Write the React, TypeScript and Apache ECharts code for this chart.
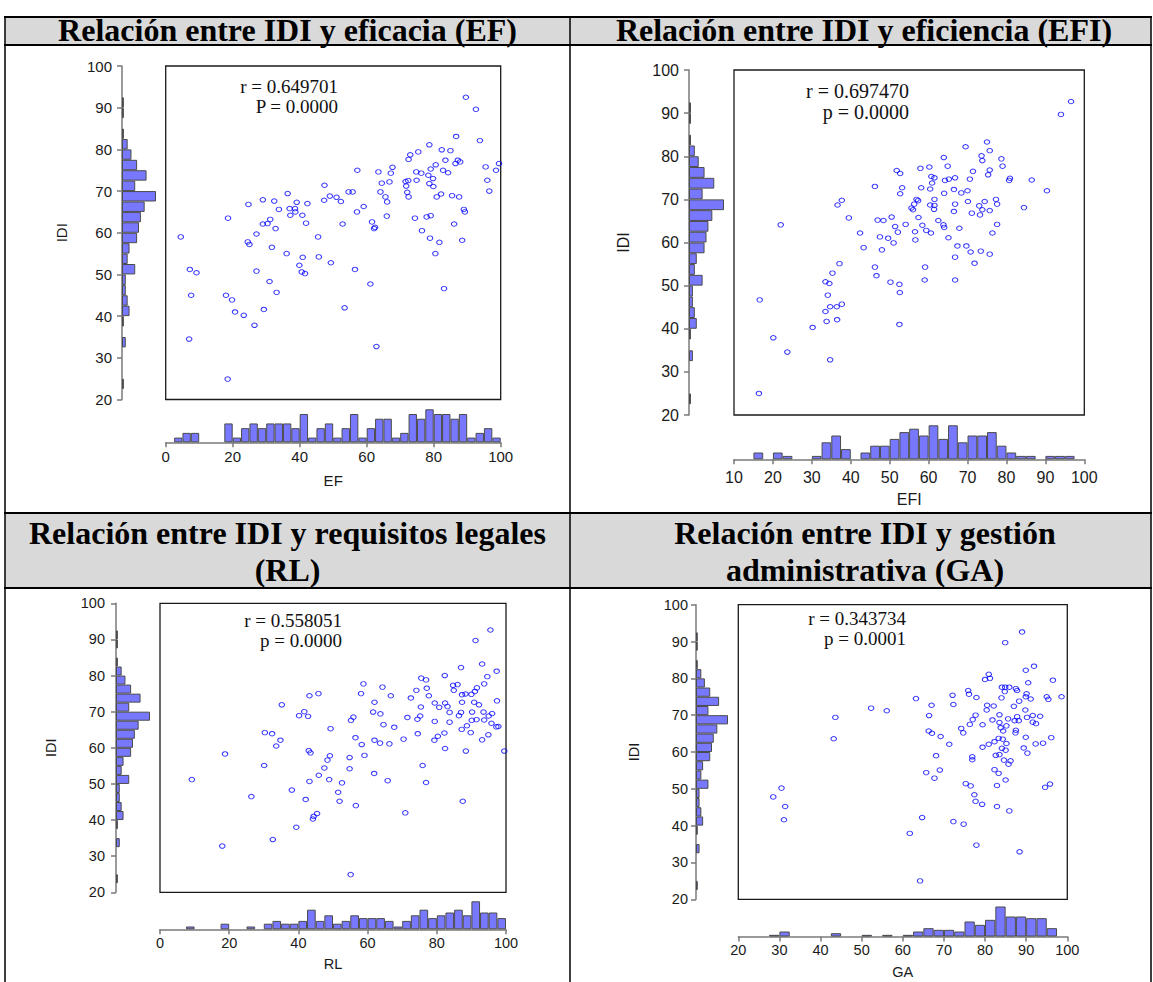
import { useEffect, useRef } from "react";
import * as echarts from "echarts";

// ---------------- DATA ----------------
// IDI histogram (shared by the four panels), bins of 2.5 from 20 to 100
const IDI_BINS = [20, 22.5, 25, 27.5, 30, 32.5, 35, 37.5, 40, 42.5, 45, 47.5, 50, 52.5, 55, 57.5, 60, 62.5, 65, 67.5, 70, 72.5, 75, 77.5, 80, 82.5, 85, 87.5, 90, 92.5, 95, 97.5];
const IDI_COUNTS = [0, 1, 0, 0, 0, 2, 0, 1, 4, 3, 2, 2, 7, 3, 4, 8, 9, 10, 12, 18, 7, 13, 8, 5, 3, 1, 0, 1, 1, 0, 0, 0];

const EF_BINS = [0, 2.5, 5, 7.5, 10, 12.5, 15, 17.5, 20, 22.5, 25, 27.5, 30, 32.5, 35, 37.5, 40, 42.5, 45, 47.5, 50, 52.5, 55, 57.5, 60, 62.5, 65, 67.5, 70, 72.5, 75, 77.5, 80, 82.5, 85, 87.5, 90, 92.5, 95, 97.5];
const EF_COUNTS = [0, 1, 2, 2, 0, 0, 0, 4, 1, 3, 4, 3, 4, 4, 4, 3, 6, 1, 3, 4, 1, 3, 6, 1, 3, 5, 5, 1, 2, 6, 5, 7, 6, 6, 5, 6, 1, 2, 3, 1];

const EFI_BINS = [10, 12.5, 15, 17.5, 20, 22.5, 25, 27.5, 30, 32.5, 35, 37.5, 40, 42.5, 45, 47.5, 50, 52.5, 55, 57.5, 60, 62.5, 65, 67.5, 70, 72.5, 75, 77.5, 80, 82.5, 85, 87.5, 90, 92.5, 95, 97.5];
const EFI_COUNTS = [0, 0, 2, 0, 2, 1, 0, 0, 1, 5, 7, 3, 0, 2, 4, 4, 6, 8, 9, 7, 10, 6, 10, 5, 7, 7, 8, 4, 2, 1, 1, 0, 1, 1, 1, 0];

const RL_BINS = [0, 2.5, 5, 7.5, 10, 12.5, 15, 17.5, 20, 22.5, 25, 27.5, 30, 32.5, 35, 37.5, 40, 42.5, 45, 47.5, 50, 52.5, 55, 57.5, 60, 62.5, 65, 67.5, 70, 72.5, 75, 77.5, 80, 82.5, 85, 87.5, 90, 92.5, 95, 97.5];
const RL_COUNTS = [0, 0, 0, 1, 0, 0, 0, 2, 0, 0, 1, 0, 2, 3, 2, 2, 3, 7, 3, 5, 2, 3, 5, 4, 4, 4, 3, 1, 3, 5, 7, 4, 5, 6, 7, 5, 10, 6, 6, 4];

const GA_BINS = [20, 22.5, 25, 27.5, 30, 32.5, 35, 37.5, 40, 42.5, 45, 47.5, 50, 52.5, 55, 57.5, 60, 62.5, 65, 67.5, 70, 72.5, 75, 77.5, 80, 82.5, 85, 87.5, 90, 92.5, 95, 97.5];
const GA_COUNTS = [0, 0, 0, 1, 3, 0, 0, 0, 0, 2, 0, 0, 1, 0, 1, 0, 1, 3, 5, 4, 4, 3, 9, 7, 10, 18, 12, 12, 11, 11, 5, 0];

// scatter points [x, IDI]
const EF_DATA = [[89.6,92.5],[92.6,89.6],[93.8,82.1],[86.7,83.1],[78.7,81.1],[75.4,79.4],[73.0,78.7],[72.5,77.6],[82.4,79.9],[85.0,79.7],[83.5,77.4],[87.2,77.4],[87.9,77.0],[86.5,76.6],[80.6,76.3],[79.1,75.3],[82.8,75.0],[84.3,74.4],[95.5,75.8],[99.5,76.6],[98.6,75.0],[96.0,72.6],[96.6,70.0],[67.7,75.7],[67.2,74.3],[63.5,74.6],[57.2,75.0],[64.5,71.9],[66.8,72.2],[71.6,72.3],[72.4,72.5],[74.8,74.6],[76.3,74.3],[74.9,72.6],[78.4,73.8],[79.8,73.0],[78.7,71.8],[79.9,71.1],[71.8,71.2],[72.1,69.7],[72.5,68.6],[82.2,69.3],[80.9,68.6],[85.5,68.9],[87.6,68.6],[64.1,69.8],[65.6,68.6],[66.1,67.4],[59.1,66.3],[57.1,65.0],[66.0,64.0],[74.4,63.5],[77.9,63.8],[79.1,64.1],[89.0,65.6],[89.3,65.0],[86.1,62.1],[61.6,62.6],[62.2,61.0],[62.5,61.3],[52.8,62.1],[76.5,60.5],[78.9,58.7],[81.7,57.7],[88.5,58.2],[80.5,55.0],[83.1,46.6],[61.1,47.7],[62.9,32.7],[47.4,71.4],[49.0,68.8],[47.3,67.8],[51.0,68.5],[52.3,67.5],[54.6,69.8],[55.8,69.8],[36.4,69.4],[39.1,67.3],[42.3,67.0],[29.0,67.9],[32.4,67.6],[24.7,66.8],[33.8,65.6],[37.0,65.8],[38.6,65.8],[38.7,65.0],[37.2,64.2],[40.8,64.2],[41.9,62.3],[18.6,63.5],[31.2,63.2],[29.0,62.1],[30.4,62.2],[32.8,61.0],[27.1,59.7],[45.5,59.0],[24.5,57.8],[25.0,57.2],[31.7,56.5],[36.1,55.0],[40.9,54.1],[45.7,54.2],[49.3,52.8],[39.9,52.2],[40.6,50.6],[41.6,50.2],[56.5,51.2],[4.5,59.0],[7.2,51.2],[9.2,50.4],[7.6,45.0],[7.0,34.5],[27.1,50.8],[31.0,48.3],[33.1,45.7],[18.0,45.0],[19.8,43.9],[20.7,41.0],[23.3,40.2],[29.3,41.6],[26.5,37.8],[53.4,42.0],[18.5,24.9]];

const EFI_DATA = [[96.6,92.7],[94.0,89.7],[75.0,83.3],[69.5,82.2],[75.7,81.3],[73.6,80.1],[63.9,79.7],[78.7,79.4],[73.8,79.0],[79.0,77.7],[64.9,77.7],[60.2,77.5],[57.9,77.2],[51.8,76.7],[52.7,76.0],[75.7,76.8],[71.4,76.5],[75.3,75.7],[60.7,75.3],[61.5,75.0],[60.9,73.8],[64.2,74.4],[65.2,74.7],[66.8,75.0],[70.6,74.7],[80.9,74.9],[80.7,74.4],[86.5,74.5],[46.2,73.0],[53.2,72.7],[52.7,71.3],[58.1,72.7],[60.4,72.4],[64.0,71.4],[66.5,72.3],[68.4,71.5],[70.0,72.0],[90.4,72.0],[36.6,68.7],[37.7,69.8],[56.9,70.0],[56.3,68.9],[55.6,68.0],[56.0,67.6],[57.3,69.7],[61.5,70.0],[60.4,68.7],[61.5,68.6],[61.4,67.7],[66.8,68.9],[66.5,67.2],[70.1,69.5],[73.0,68.5],[74.4,69.5],[77.3,70.0],[77.6,68.9],[73.8,67.6],[75.7,67.4],[73.2,66.4],[71.1,66.8],[84.5,68.1],[39.5,65.7],[46.9,65.2],[48.4,65.1],[50.5,65.9],[51.4,63.7],[54.1,64.2],[57.4,65.8],[58.4,64.0],[59.4,62.8],[60.6,62.2],[62.5,65.1],[63.8,64.1],[64.0,63.5],[67.9,63.3],[65.1,61.1],[77.6,64.2],[76.4,62.2],[42.4,62.2],[47.5,61.3],[49.6,61.0],[51.0,59.9],[52.1,62.4],[56.5,62.5],[56.6,60.6],[43.3,58.8],[48.0,58.3],[67.4,59.2],[69.7,59.2],[70.8,57.8],[73.4,58.0],[75.7,57.3],[66.8,56.6],[71.8,55.2],[37.1,55.1],[35.3,52.9],[33.5,50.9],[34.5,50.5],[34.1,47.8],[46.2,54.3],[46.6,52.3],[59.1,54.3],[59.0,51.3],[66.8,51.3],[50.2,50.8],[52.5,50.3],[52.6,48.4],[52.5,41.0],[22.0,64.1],[16.6,46.7],[34.7,45.1],[36.4,45.1],[37.7,45.7],[33.5,44.0],[33.8,41.7],[36.5,42.1],[30.2,40.3],[20.1,37.9],[23.7,34.6],[34.7,32.8],[16.4,25.0]];

const RL_DATA = [[95.5,92.6],[91.2,89.7],[93.1,83.2],[87.0,82.2],[97.3,81.2],[82.3,80.0],[94.6,79.7],[75.5,79.3],[76.9,78.8],[58.8,77.7],[64.3,76.8],[84.7,77.3],[86.0,77.5],[93.7,77.7],[91.6,76.6],[84.9,75.9],[74.1,75.9],[77.1,76.5],[58.1,75.0],[66.7,74.4],[72.5,73.8],[77.7,74.4],[87.3,74.7],[88.3,74.9],[90.0,74.8],[91.0,75.6],[43.2,74.4],[45.8,75.0],[35.2,71.9],[62.0,72.6],[79.4,72.4],[80.7,71.2],[82.4,72.4],[83.1,71.4],[87.3,72.6],[90.8,72.6],[92.2,71.9],[97.4,73.0],[75.4,71.3],[40.2,68.9],[41.7,70.0],[42.8,68.7],[55.2,67.6],[55.9,68.5],[61.6,69.9],[63.7,69.4],[71.5,68.4],[74.4,67.9],[75.2,68.8],[79.4,67.3],[83.7,69.8],[86.4,68.9],[87.0,69.8],[90.2,69.9],[90.1,67.6],[91.5,67.8],[93.5,69.9],[95.0,68.8],[96.0,69.5],[93.7,67.7],[95.8,66.8],[97.2,65.8],[97.8,65.9],[49.3,65.3],[64.6,66.4],[67.7,65.7],[83.7,67.1],[88.7,66.1],[87.2,65.1],[89.8,64.2],[94.9,63.6],[93.1,62.2],[30.3,64.2],[32.4,63.9],[34.8,62.1],[33.6,60.5],[56.5,62.8],[58.3,60.9],[62.0,62.1],[63.6,61.3],[66.3,61.1],[70.4,62.4],[74.5,63.9],[79.3,62.1],[80.3,63.2],[82.2,64.1],[82.4,59.8],[88.4,59.1],[99.5,59.1],[18.8,58.3],[43.0,59.2],[43.5,58.6],[49.1,57.8],[48.4,56.6],[47.5,54.4],[54.8,57.3],[54.8,54.2],[59.1,57.9],[30.1,55.1],[45.9,52.4],[48.9,51.2],[43.2,50.7],[52.6,50.3],[61.9,52.9],[65.8,50.9],[75.9,55.1],[76.9,50.4],[9.2,51.2],[26.4,46.5],[38.1,48.3],[42.1,45.7],[51.5,47.7],[51.9,45.2],[56.6,44.0],[87.5,45.2],[70.9,42.0],[45.4,41.8],[44.4,41.0],[44.2,40.3],[39.4,38.0],[32.6,34.6],[18.0,32.8],[55.1,24.9]];

const GA_DATA = [[89.0,92.6],[84.9,89.7],[91.9,83.3],[89.9,82.2],[80.9,81.1],[80.0,79.7],[81.2,80.0],[96.5,79.5],[90.5,78.8],[84.1,77.6],[84.9,77.6],[85.9,77.6],[87.5,77.2],[84.8,76.4],[87.8,76.7],[75.9,76.7],[76.1,75.7],[72.1,75.4],[77.9,74.8],[63.2,74.5],[90.1,75.8],[89.9,75.0],[91.1,74.4],[95.0,75.0],[95.4,74.3],[98.6,75.0],[84.0,74.7],[88.3,73.8],[67.0,72.7],[72.3,72.9],[80.5,72.7],[82.1,72.5],[87.0,72.4],[80.4,71.4],[89.8,71.4],[52.3,71.9],[56.1,71.2],[43.6,69.4],[66.4,69.9],[77.7,70.0],[77.0,68.8],[76.3,67.5],[79.4,67.4],[81.8,68.7],[83.5,70.1],[83.5,68.0],[83.8,66.6],[85.6,69.0],[85.2,67.1],[87.2,68.5],[87.8,69.6],[88.2,68.5],[90.2,69.4],[91.6,69.9],[91.6,68.1],[92.4,67.7],[93.4,69.7],[84.4,65.7],[87.5,65.9],[87.4,65.2],[74.2,66.4],[74.7,65.2],[66.3,65.7],[67.1,65.1],[69.2,64.2],[43.2,63.6],[84.3,63.5],[85.2,62.3],[89.9,64.0],[96.1,63.9],[71.3,62.1],[79.4,61.3],[80.9,62.1],[82.3,62.8],[83.3,63.7],[92.3,62.2],[94.1,62.4],[84.1,61.0],[85.0,60.5],[89.4,61.1],[90.3,59.7],[68.1,59.0],[76.9,58.7],[76.9,57.9],[82.6,59.1],[83.5,59.3],[84.6,57.8],[86.2,57.6],[85.7,56.7],[69.0,55.1],[65.7,54.4],[67.7,52.9],[82.3,55.2],[83.3,54.2],[85.0,52.4],[75.3,51.4],[76.5,50.8],[82.9,50.9],[94.6,50.4],[95.8,51.3],[77.4,48.4],[77.7,46.6],[79.3,45.8],[82.9,45.2],[85.9,44.0],[30.5,50.2],[28.5,47.8],[31.4,45.2],[31.1,41.6],[64.7,42.2],[72.3,41.1],[74.8,40.4],[61.7,37.9],[77.9,34.7],[88.4,32.9],[64.2,25.0]];

const TITLES_TOP = ["Relación entre IDI y eficacia (EF)", "Relación entre IDI y eficiencia (EFI)"];
const TITLES_BOTTOM_L = ["Relación entre IDI y requisitos legales", "(RL)"];
const TITLES_BOTTOM_R = ["Relación entre IDI y gestión", "administrativa (GA)"];
const STATS = [
  ["r = 0.649701", "P = 0.0000"],
  ["r = 0.697470", "p = 0.0000"],
  ["r = 0.558051", "p = 0.0000"],
  ["r = 0.343734", "p = 0.0001"],
];

// ---------------- STYLE / LAYOUT ----------------
const SANS = "'Liberation Sans', Arial, sans-serif";
const SERIF = "'Liberation Serif', 'Times New Roman', serif";
const AXIS_COLOR = "#7a7a7a";
const LABEL_COLOR = "#1a1a1a";
const BAR_STYLE = { color: "#7878ff", borderColor: "#4b4b4b", borderWidth: 1 };

const PANELS = [
  { name: "EF", data: EF_DATA, bins: EF_BINS, counts: EF_COUNTS, xMin: 0, xMax: 100, xInterval: 20, stats: STATS[0],
    axisX: 122, top: 66, bottom: 399.5, boxL: 165.7, boxR: 500.7, base: 442.3, histH: 33, leftLen: 34,
    fs: 15, yLabelMargin: 10, xLabelMargin: 7, xNameGap: 31, yNameGap: 53, statX: 338, statY1: 86, statY2: 106.5, statFs: 19 },
  { name: "EFI", data: EFI_DATA, bins: EFI_BINS, counts: EFI_COUNTS, xMin: 10, xMax: 100, xInterval: 10, stats: STATS[1],
    axisX: 689, top: 70, bottom: 415, boxL: 734, boxR: 1084.3, base: 459.3, histH: 34, leftLen: 35,
    fs: 16, yLabelMargin: 10, xLabelMargin: 10, xNameGap: 32, yNameGap: 58, statX: 909, statY1: 90.7, statY2: 112.3, statFs: 20 },
  { name: "RL", data: RL_DATA, bins: RL_BINS, counts: RL_COUNTS, xMin: 0, xMax: 100, xInterval: 20, stats: STATS[2],
    axisX: 116, top: 603.3, bottom: 892.3, boxL: 160, boxR: 506, base: 929.3, histH: 28, leftLen: 34,
    fs: 14.5, yLabelMargin: 11, xLabelMargin: 6, xNameGap: 27, yNameGap: 58, statX: 342, statY1: 620.3, statY2: 640.5, statFs: 19 },
  { name: "GA", data: GA_DATA, bins: GA_BINS, counts: GA_COUNTS, xMin: 20, xMax: 100, xInterval: 10, stats: STATS[3],
    axisX: 696, top: 604.7, bottom: 899.3, boxL: 738.3, boxR: 1067.3, base: 936.5, histH: 30, leftLen: 32,
    fs: 14.5, yLabelMargin: 8, xLabelMargin: 6, xNameGap: 28, yNameGap: 55, statX: 906, statY1: 618.3, statY2: 638.5, statFs: 19 },
];

function axisShown(fs: number, margin: number) {
  return {
    axisLine: { show: true, onZero: false, lineStyle: { color: AXIS_COLOR, width: 1.5 } },
    axisTick: { show: true, length: 5, lineStyle: { color: AXIS_COLOR, width: 1.5 } },
    axisLabel: { show: true, color: LABEL_COLOR, fontSize: fs, fontFamily: SANS, margin },
    splitLine: { show: false },
    nameTextStyle: { color: LABEL_COLOR, fontSize: fs, fontFamily: SANS },
  };
}

function buildOption() {
  const grid: any[] = [];
  const xAxis: any[] = [];
  const yAxis: any[] = [];
  const series: any[] = [];
  const graphic: any[] = [];

  // table backgrounds + borders
  graphic.push({ type: "rect", silent: true, shape: { x: 5, y: 17, width: 1146, height: 28 }, style: { fill: "#d9d9d9" } });
  graphic.push({ type: "rect", silent: true, shape: { x: 5, y: 513, width: 1146, height: 75 }, style: { fill: "#d9d9d9" } });
  const hLines = [17, 45, 513, 588];
  hLines.forEach((y) => graphic.push({ type: "line", silent: true, shape: { x1: 4, y1: y, x2: 1152, y2: y }, style: { stroke: "#000", lineWidth: 2 } }));
  const vLines = [5, 570, 1151];
  vLines.forEach((x) => graphic.push({ type: "line", silent: true, shape: { x1: x, y1: 16, x2: x, y2: 982 }, style: { stroke: "#000", lineWidth: 1.5 } }));

  const titleStyle = (text: string) => ({ text, fontSize: 32, fontWeight: "bold", fontFamily: SERIF, fill: "#000", align: "center", verticalAlign: "middle" });
  graphic.push({ type: "text", silent: true, x: 287.5, y: 30, style: titleStyle(TITLES_TOP[0]) });
  graphic.push({ type: "text", silent: true, x: 864, y: 30, style: titleStyle(TITLES_TOP[1]) });
  graphic.push({ type: "text", silent: true, x: 287.5, y: 533, style: titleStyle(TITLES_BOTTOM_L[0]) });
  graphic.push({ type: "text", silent: true, x: 287.5, y: 570, style: titleStyle(TITLES_BOTTOM_L[1]) });
  graphic.push({ type: "text", silent: true, x: 865, y: 533, style: titleStyle(TITLES_BOTTOM_R[0]) });
  graphic.push({ type: "text", silent: true, x: 865, y: 570, style: titleStyle(TITLES_BOTTOM_R[1]) });

  const idiMax = Math.max(...IDI_COUNTS);

  PANELS.forEach((p) => {
    const gi = grid.length;
    grid.push({ left: p.axisX, top: p.top, width: p.leftLen, height: p.bottom - p.top });
    grid.push({ left: p.boxL, top: p.top, width: p.boxR - p.boxL, height: p.bottom - p.top, show: true, borderColor: "#1a1a1a", borderWidth: 1.3, backgroundColor: "rgba(0,0,0,0)" });
    grid.push({ left: p.boxL, top: p.base - p.histH, width: p.boxR - p.boxL, height: p.histH });

    const xi = xAxis.length;
    const yi = yAxis.length;
    xAxis.push({ type: "value", gridIndex: gi, min: 0, max: idiMax, show: false });
    xAxis.push({ type: "value", gridIndex: gi + 1, min: p.xMin, max: p.xMax, show: false });
    xAxis.push({
      type: "value", gridIndex: gi + 2, min: p.xMin, max: p.xMax, interval: p.xInterval, position: "bottom",
      name: p.name, nameLocation: "middle", nameGap: p.xNameGap, ...axisShown(p.fs, p.xLabelMargin),
    });
    xAxis.push({ type: "category", gridIndex: gi + 2, data: p.bins.map(String), show: false, position: "top", boundaryGap: true });

    yAxis.push({
      type: "value", gridIndex: gi, min: 20, max: 100, interval: 10, position: "left",
      name: "IDI", nameLocation: "middle", nameRotate: 90, nameGap: p.yNameGap, ...axisShown(p.fs, p.yLabelMargin),
    });
    yAxis.push({ type: "category", gridIndex: gi, data: IDI_BINS.map(String), show: false, position: "right", boundaryGap: true });
    yAxis.push({ type: "value", gridIndex: gi + 1, min: 20, max: 100, show: false });
    yAxis.push({ type: "value", gridIndex: gi + 2, min: 0, max: Math.max(...p.counts), show: false });

    series.push({
      type: "bar", xAxisIndex: xi, yAxisIndex: yi + 1, data: IDI_COUNTS.map((c) => (c ? c : null)),
      barCategoryGap: "0%", itemStyle: BAR_STYLE, silent: true,
    });
    series.push({
      type: "scatter", xAxisIndex: xi + 1, yAxisIndex: yi + 2, data: p.data, symbol: "circle", symbolSize: [5.5, 4.5],
      itemStyle: { color: "rgba(0,0,0,0)", borderColor: "#0000ff", borderWidth: 1 }, clip: false, silent: true,
    });
    series.push({
      type: "bar", xAxisIndex: xi + 3, yAxisIndex: yi + 3, data: p.counts.map((c) => (c ? c : null)),
      barCategoryGap: "0%", itemStyle: BAR_STYLE, silent: true,
    });

    graphic.push({ type: "text", silent: true, x: p.statX, y: p.statY1, style: { text: p.stats[0], fontSize: p.statFs, fontFamily: SERIF, fill: "#111", align: "right", verticalAlign: "middle" } });
    graphic.push({ type: "text", silent: true, x: p.statX, y: p.statY2, style: { text: p.stats[1], fontSize: p.statFs, fontFamily: SERIF, fill: "#111", align: "right", verticalAlign: "middle" } });
  });

  return { animation: false, backgroundColor: "#ffffff", grid, xAxis, yAxis, series, graphic };
}

export default function App() {
  const ref = useRef<HTMLDivElement>(null);
  useEffect(() => {
    if (!ref.current) return;
    const chart = echarts.init(ref.current, undefined, { renderer: "svg" });
    chart.setOption(buildOption() as any);
    return () => chart.dispose();
  }, []);
  return <div ref={ref} style={{ position: "absolute", left: 0, top: 0, width: 1153, height: 982, background: "#fff" }} />;
}
